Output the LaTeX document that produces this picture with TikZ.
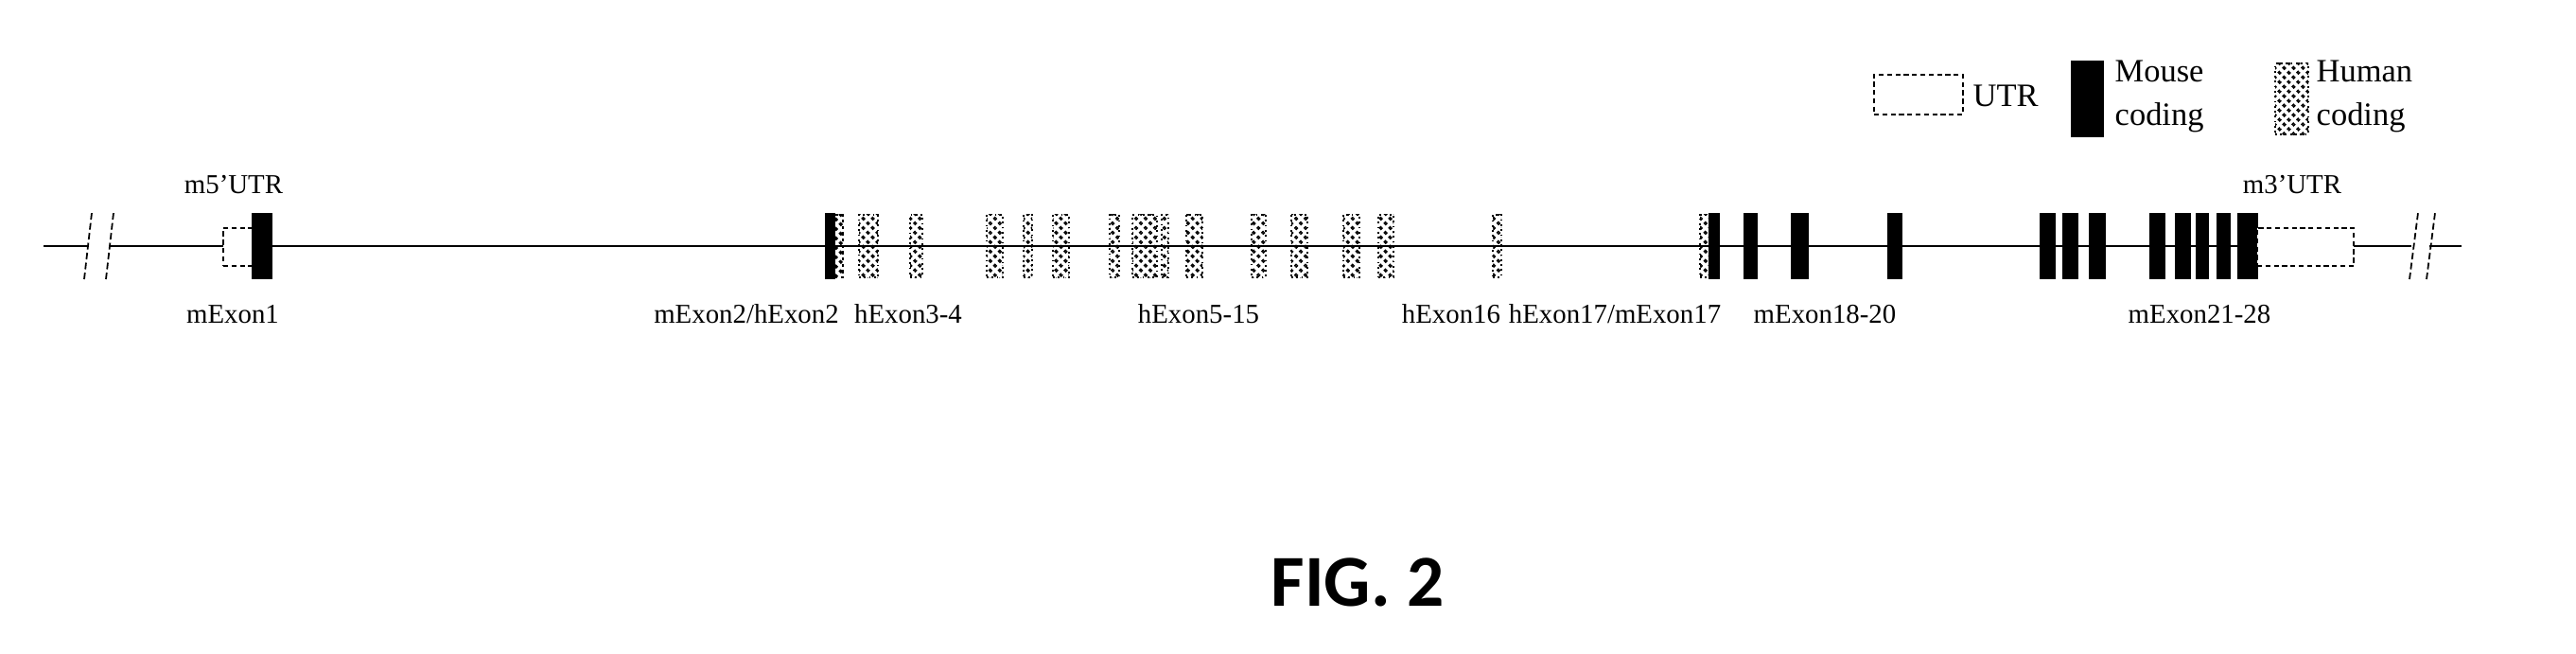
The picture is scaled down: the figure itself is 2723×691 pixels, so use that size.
\documentclass[tikz,border=0pt]{standalone}
\usepackage{fontspec}
\setmainfont{Liberation Serif}
\newfontfamily\figfont{Carlito}
\usetikzlibrary{patterns.meta}
\tikzset{
  backbone/.style={line width=0.6pt},
  mousebox/.style={draw=black, fill=black, line width=0.4pt, inner sep=0pt, outer sep=0pt, minimum height=0.68cm},
  humanbox/.style={draw=black, densely dotted, line width=0.5pt, pattern={Lines[angle=-45,distance=2pt,line width=0.9pt]}, inner sep=0pt, outer sep=0pt, minimum height=0.66cm},
  utrbox/.style={draw=black, dash pattern=on 1.5pt off 1pt, line width=0.6pt, fill=white, inner sep=0pt, outer sep=0pt, minimum height=0.40cm},
  lbl/.style={font=\fontsize{8.2}{9}\selectfont, inner sep=0pt, anchor=base},
  leg/.style={font=\fontsize{9.8}{11}\selectfont, inner sep=0pt, anchor=base west},
  brk/.style={dash pattern=on 2pt off 1pt, line width=0.5pt},
}
\newcommand\exonbox[5]{%
  \pgfmathsetmacro\exw{(#3-#2)*0.01}%
  \node[#4, minimum width=\exw cm] (#1) at ({(#2+#3)/2},#5) {};}
\begin{document}
\begin{tikzpicture}[x=0.01cm, y=-0.01cm]
\useasboundingbox (0,0) rectangle (2723,691);
% backbone
\coordinate (Lstart) at (46,260);
\coordinate (Lg1) at (93,260);
\coordinate (Lg2) at (115,260);
\coordinate (Rg1) at (2549,260);
\coordinate (Rg2) at (2568,260);
\coordinate (Rend) at (2602,260);
\draw[backbone] (Lstart) -- (Lg1);
\draw[backbone] (Lg2) -- (Rg1);
\draw[backbone] (Rg2) -- (Rend);
% break marks
\coordinate (s1a) at (89,295); \coordinate (s1b) at (97,225);
\coordinate (s2a) at (112,295); \coordinate (s2b) at (120,225);
\coordinate (s3a) at (2547,295); \coordinate (s3b) at (2556,225);
\coordinate (s4a) at (2565,295); \coordinate (s4b) at (2574,225);
\draw[brk] (s1a) -- (s1b);
\draw[brk] (s2a) -- (s2b);
\draw[brk] (s3a) -- (s3b);
\draw[brk] (s4a) -- (s4b);
% exons
\exonbox{utr5}{236}{267}{utrbox}{261}
\exonbox{e1}{267}{287}{mousebox}{260}
\exonbox{m2}{873}{882}{mousebox}{260}
\exonbox{h2}{882}{891}{humanbox}{260}
\exonbox{h3}{908}{928}{humanbox}{260}
\exonbox{h4}{962}{975}{humanbox}{260}
\exonbox{h5}{1043}{1060}{humanbox}{260}
\exonbox{h6}{1082}{1091}{humanbox}{260}
\exonbox{h7}{1113}{1130}{humanbox}{260}
\exonbox{h8}{1173}{1183}{humanbox}{260}
\exonbox{h9}{1197}{1223}{humanbox}{260}
\exonbox{h10}{1228}{1235}{humanbox}{260}
\exonbox{h11}{1254}{1271}{humanbox}{260}
\exonbox{h12}{1323}{1338}{humanbox}{260}
\exonbox{h13}{1365}{1382}{humanbox}{260}
\exonbox{h14}{1420}{1437}{humanbox}{260}
\exonbox{h15}{1457}{1473}{humanbox}{260}
\exonbox{h16}{1578}{1587}{humanbox}{260}
\exonbox{h17}{1797}{1807}{humanbox}{260}
\exonbox{m17}{1807}{1817}{mousebox}{260}
\exonbox{m18}{1844}{1857}{mousebox}{260}
\exonbox{m19}{1894}{1911}{mousebox}{260}
\exonbox{m20}{1996}{2010}{mousebox}{260}
\exonbox{m21}{2157}{2172}{mousebox}{260}
\exonbox{m22}{2181}{2196}{mousebox}{260}
\exonbox{m23}{2209}{2225}{mousebox}{260}
\exonbox{m24}{2273}{2288}{mousebox}{260}
\exonbox{m25}{2300}{2315}{mousebox}{260}
\exonbox{m26}{2322}{2334}{mousebox}{260}
\exonbox{m27}{2344}{2357}{mousebox}{260}
\exonbox{m28}{2366}{2386}{mousebox}{260}
\exonbox{utr3}{2386}{2488}{utrbox}{261}
% labels
\node[lbl] (l5utr) at (247,205) {m5'UTR};
\node[lbl] (l3utr) at (2423,205) {m3'UTR};
\node[lbl] (lE1) at (246,342) {mExon1};
\node[lbl] (lE2) at (789,342) {mExon2/hExon2};
\node[lbl] (lE34) at (960,342) {hExon3-4};
\node[lbl] (lE515) at (1267,342) {hExon5-15};
\node[lbl] (lE16) at (1534,342) {hExon16};
\node[lbl] (lE17) at (1707,342) {hExon17/mExon17};
\node[lbl] (lE1820) at (1929,342) {mExon18-20};
\node[lbl] (lE2128) at (2325,342) {mExon21-28};
% legend
\exonbox{legutr}{1981}{2075}{utrbox, minimum height=0.42cm}{100}
\node[leg] (legutrt) at (2085,113) {UTR};
\exonbox{legm}{2190}{2223}{mousebox, minimum height=0.79cm}{104.5}
\node[leg] (legm1) at (2235,87) {Mouse};
\node[leg] (legm2) at (2235,133) {coding};
\exonbox{legh}{2405}{2440}{humanbox, minimum height=0.75cm}{104.5}
\node[leg] (legh1) at (2448,87) {Human};
\node[leg] (legh2) at (2448,133) {coding};
% caption
\node[font=\figfont\bfseries\fontsize{22}{26}\selectfont, anchor=base, inner sep=0pt] (fig) at (1435,640) {FIG. 2};
\end{tikzpicture}
\end{document}
